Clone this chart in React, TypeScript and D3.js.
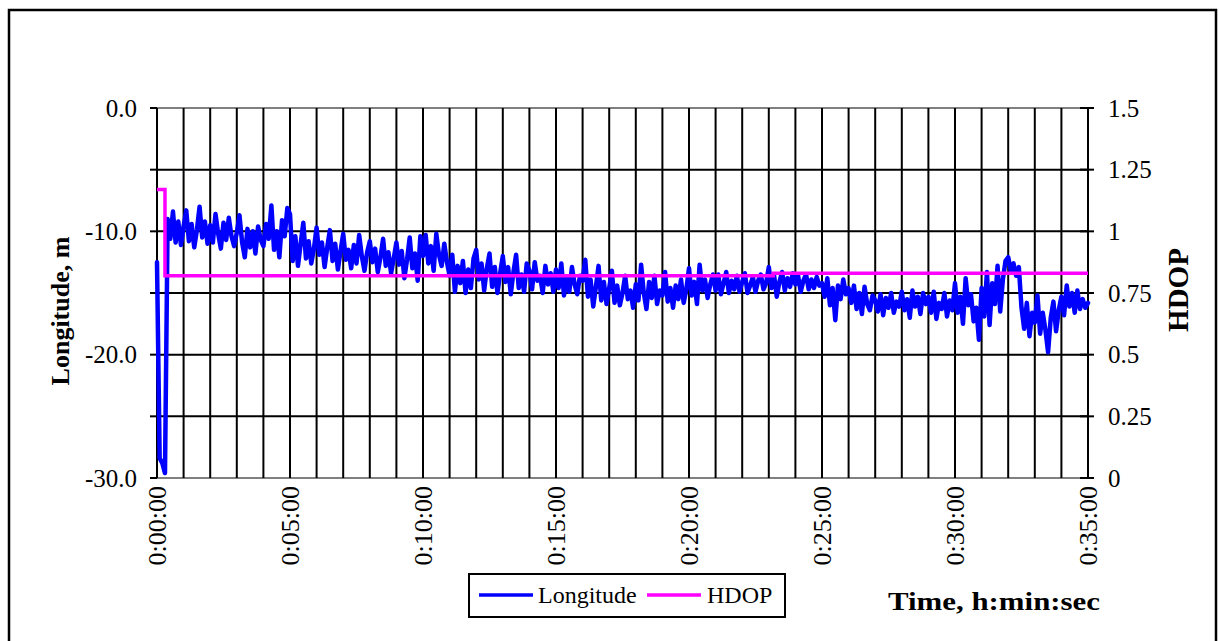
import React from "react";
import * as d3 from "d3";

const SAMPLE_INTERVAL_S = 6;
const longitude: number[] = [
  // 0 min
  -12.5, -28.4, -28.8, -29.6, -9.0, -10.6, -8.4, -10.9, -9.2, -11.1,
  // 1
  -9.6, -8.3, -10.8, -9.4, -11.3, -9.9, -8.0, -10.5, -9.2, -11.0,
  // 2
  -9.5, -10.9, -8.6, -10.2, -11.4, -9.3, -10.7, -8.9, -10.4, -11.2,
  // 3
  -10.1, -8.7, -10.9, -12.1, -9.8, -11.3, -10.0, -11.8, -9.6, -10.7,
  // 4
  -11.2, -9.4, -10.6, -7.9, -11.5, -10.0, -12.1, -9.1, -10.4, -8.1,
  // 5
  -8.6, -12.4, -10.4, -12.8, -11.0, -9.3, -12.2, -10.8, -12.6, -11.4,
  // 6
  -9.7, -11.9, -10.9, -12.9, -11.3, -9.9, -12.4, -11.0, -13.1, -11.6,
  // 7
  -10.2, -12.3, -11.5, -13.0, -11.1, -12.6, -10.3, -12.0, -13.2, -11.7,
  // 8
  -10.8, -12.5, -11.4, -13.3, -12.1, -10.6, -12.8, -11.7, -13.4, -12.2,
  // 9
  -10.9, -12.7, -11.6, -13.8, -12.3, -10.5, -13.0, -11.8, -14.0, -10.4,
  // 10
  -12.0, -10.3, -12.6, -11.2, -13.2, -10.2, -11.9, -12.8, -11.0, -12.5,
  // 11
  -13.6, -11.9, -14.9, -12.8, -14.2, -12.4, -15.0, -13.1, -14.6, -12.2,
  // 12
  -11.5, -13.9, -12.6, -14.8, -13.0, -11.8, -14.5, -12.9, -15.0, -13.4,
  // 13
  -12.0, -14.1, -12.9, -15.1, -13.3, -11.9, -14.6, -13.5, -14.9, -12.6,
  // 14
  -13.2, -14.7, -12.5, -14.0, -13.6, -15.0, -12.8, -14.3, -13.4, -14.9,
  // 15
  -13.1, -14.6, -12.6, -15.2, -13.8, -14.9, -12.9, -14.3, -15.1, -13.6,
  // 16
  -14.0, -12.3, -15.3, -13.9, -16.1, -14.5, -12.8, -15.6, -14.1, -15.9,
  // 17
  -14.6, -13.2, -15.8, -14.4, -16.0, -15.0, -13.6, -15.5, -14.8, -16.2,
  // 18
  -14.3, -15.6, -12.7, -15.0, -16.3, -14.1, -15.4, -13.6, -15.9, -14.8,
  // 19
  -15.2, -13.3, -15.7, -14.6, -16.2, -14.4, -15.5, -13.9, -15.8, -14.7,
  // 20
  -13.0, -15.2, -14.1, -15.9, -12.7, -14.8, -13.9, -15.4, -14.3, -13.5,
  // 21
  -14.8, -13.5, -15.1, -14.2, -13.3, -15.0, -14.0, -14.7, -13.6, -14.9,
  // 22
  -14.1, -13.4, -15.0, -14.4, -13.7, -14.9, -14.0, -13.5, -14.7, -14.2,
  // 23
  -12.9, -14.6, -13.6, -15.3, -14.1, -13.3, -14.8, -13.8, -14.5, -13.4,
  // 24
  -14.3, -13.6, -14.9, -14.0, -13.5, -14.7, -13.9, -14.6, -13.7, -14.4,
  // 25
  -14.2, -15.3, -13.8, -16.0, -14.6, -17.2, -14.4, -15.5, -13.9, -15.1,
  // 26
  -14.6, -15.8, -14.4, -16.3, -15.0, -16.7, -14.5, -15.9, -16.4, -15.2,
  // 27
  -15.6, -16.5, -15.1, -16.8, -15.4, -16.2, -15.0, -16.6, -15.7, -16.1,
  // 28
  -14.9, -16.4, -15.5, -17.0, -14.8, -16.1, -15.3, -16.7, -15.0, -15.9,
  // 29
  -15.3, -16.6, -14.9, -17.1, -15.8, -16.3, -15.0, -16.9, -15.6, -16.4,
  // 30
  -14.2, -16.6, -15.3, -17.5, -13.8, -16.0, -15.1, -17.3, -16.2, -18.8,
  // 31
  -14.6, -16.9, -13.3, -17.6, -14.2, -15.9, -12.8, -16.5, -13.9, -12.4,
  // 32
  -12.1, -13.2, -12.6, -13.6, -12.9, -16.2, -17.9, -15.8, -18.5, -16.6,
  // 33
  -17.4, -15.2, -18.3, -16.6, -18.0, -19.8, -17.0, -15.7, -18.1, -16.4,
  // 34
  -15.3, -16.8, -14.4, -16.1, -15.0, -16.6, -14.8, -16.3, -15.5, -16.2,
  // 35
  -15.8,
];

const hdopTimesS = [0, 18, 1390, 2100];
const hdopValues = [1.17, 0.82, 0.83, 0.83];

const xTickLabels = ["0:00:00", "0:05:00", "0:10:00", "0:15:00", "0:20:00", "0:25:00", "0:30:00", "0:35:00"];
const leftTickValues = [0, -5, -10, -15, -20, -25, -30];
const leftTickLabels = ["0.0", "", "-10.0", "", "-20.0", "", "-30.0"];
const rightTickValues = [0, 0.25, 0.5, 0.75, 1, 1.25, 1.5];
const rightTickLabels = ["0", "0.25", "0.5", "0.75", "1", "1.25", "1.5"];

const W = 1219, H = 641;
const PL = 157, PR = 1088, PT = 108, PB = 478;
const FONT = "'Liberation Serif', 'Times New Roman', serif";

export default function App() {
  const x = d3.scaleLinear().domain([0, 2100]).range([PL, PR]);
  const yL = d3.scaleLinear().domain([-30, 0]).range([PB, PT]);
  const yR = d3.scaleLinear().domain([0, 1.5]).range([PB, PT]);

  const lonPts: [number, number][] = longitude.map((v, i) => [i * SAMPLE_INTERVAL_S, v]);
  const lonPath = d3.line<[number, number]>().x(d => x(d[0])).y(d => yL(d[1]))(lonPts) || "";
  const hdPts: [number, number][] = hdopTimesS.map((t, i) => [t, hdopValues[i]]);
  const hdPath = d3.line<[number, number]>().curve(d3.curveStepAfter).x(d => x(d[0])).y(d => yR(d[1]))(hdPts) || "";

  const minutes = d3.range(0, 36);

  return (
    <svg width={W} height={H} style={{ position: "absolute", left: 0, top: 0, background: "#fff" }} fontFamily={FONT}>
      <rect x={0} y={0} width={W} height={H} fill="#fff" />
      <rect x={9} y={10} width={1207} height={650} fill="none" stroke="#000" strokeWidth={2.5} />
      <rect x={PL} y={PT} width={PR - PL} height={PB - PT} fill="none" stroke="#808080" strokeWidth={2} />
      {leftTickValues.filter(v => v !== 0 && v !== -30).map(v => (
        <line key={"h" + v} x1={PL} x2={PR} y1={yL(v)} y2={yL(v)} stroke="#000" strokeWidth={2} />
      ))}
      {minutes.map(m => (
        <line key={"v" + m} x1={x(m * 60)} x2={x(m * 60)} y1={PT} y2={PB} stroke="#000" strokeWidth={2} />
      ))}
      {leftTickValues.map((v, i) => (
        <g key={"lt" + v}>
          <line x1={150} x2={PL} y1={yL(v)} y2={yL(v)} stroke="#000" strokeWidth={2} />
          {leftTickLabels[i] && (
            <text x={137} y={yL(v)} dy="0.35em" textAnchor="end" fontSize={25}>{leftTickLabels[i]}</text>
          )}
        </g>
      ))}
      {rightTickValues.map((v, i) => (
        <g key={"rt" + v}>
          <line x1={1080} x2={1094} y1={yR(v)} y2={yR(v)} stroke="#000" strokeWidth={2} />
          <text x={1108} y={yR(v)} dy="0.35em" textAnchor="start" fontSize={25}>{rightTickLabels[i]}</text>
        </g>
      ))}
      {xTickLabels.map((lab, i) => {
        const xx = x(i * 300);
        return (
          <text key={lab} transform={`translate(${xx},486) rotate(-90)`} dy="0.35em" textAnchor="end" fontSize={26}>{lab}</text>
        );
      })}
      <path d={lonPath} fill="none" stroke="#0000FF" strokeWidth={4.5} strokeLinejoin="round" strokeLinecap="round" />
      <path d={hdPath} fill="none" stroke="#FF00FF" strokeWidth={3.5} />
      <text transform="translate(69,311) rotate(-90)" textAnchor="middle" fontSize={26} fontWeight="bold">Longitude, m</text>
      <text transform="translate(1188,290) rotate(-90)" textAnchor="middle" fontSize={29} fontWeight="bold">HDOP</text>
      <text x={888} y={610} fontSize={26} fontWeight="bold" textLength={212} lengthAdjust="spacingAndGlyphs">Time, h:min:sec</text>
      <rect x={469} y={574} width={316} height={43} fill="#fff" stroke="#000" strokeWidth={2} />
      <line x1={479} x2={533} y1={595} y2={595} stroke="#0000FF" strokeWidth={3.5} />
      <text x={538} y={603} fontSize={24}>Longitude</text>
      <line x1={647} x2={701} y1={595} y2={595} stroke="#FF00FF" strokeWidth={3.5} />
      <text x={707} y={603} fontSize={24}>HDOP</text>
    </svg>
  );
}
